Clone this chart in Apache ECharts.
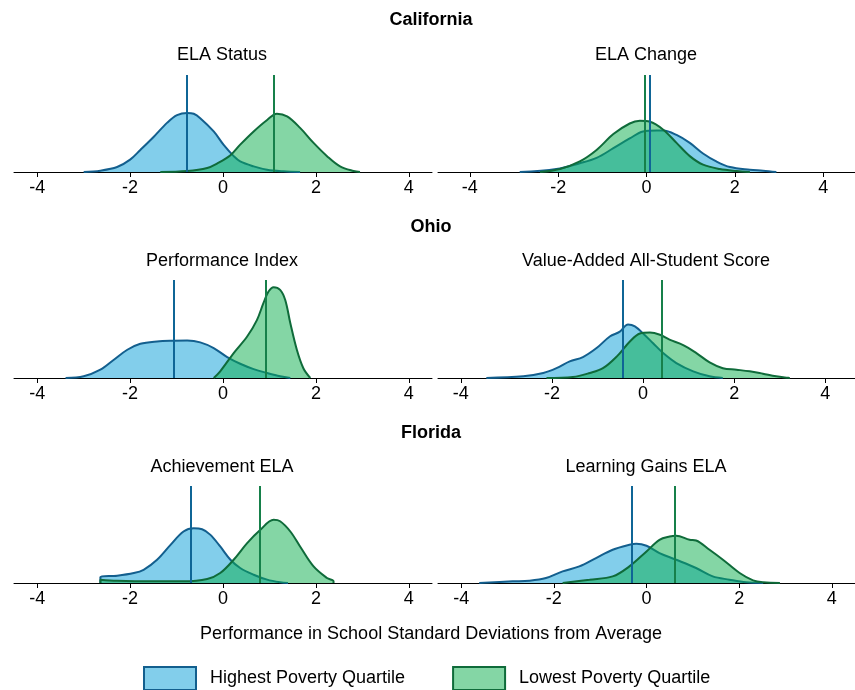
<!DOCTYPE html>
<html><head><meta charset="utf-8">
<script src="https://cdn.jsdelivr.net/npm/echarts@6/dist/echarts.min.js"></script>
<style>html,body{margin:0;padding:0;background:#fff}#c{width:855px;height:690px}</style>
</head><body><div id="c"></div>
<script>
// ---- data ----
const stateTitles = ['California', 'Ohio', 'Florida'];
const panelTitles = ['ELA Status', 'ELA Change', 'Performance Index', 'Value-Added All-Student Score', 'Achievement ELA', 'Learning Gains ELA'];
const seriesNames = ['Highest Poverty Quartile', 'Lowest Poverty Quartile'];
const tickValues = [-4, -2, 0, 2, 4];
const axisTitle = 'Performance in School Standard Deviations from Average';

// density curves [score, density]
const caStatusHigh = [[-3.0,0],[-2.64,0.015],[-2.28,0.056],[-2.0,0.14],[-1.78,0.25],[-1.49,0.40],[-1.2,0.56],[-0.99,0.645],[-0.77,0.67],[-0.63,0.66],[-0.49,0.61],[-0.2,0.46],[0.01,0.31],[0.23,0.18],[0.37,0.12],[0.66,0.064],[0.95,0.026],[1.3,0.008],[1.66,0]];
const caStatusLow = [[-1.35,0],[-0.77,0.011],[-0.34,0.045],[-0.13,0.095],[0.16,0.19],[0.37,0.31],[0.66,0.46],[0.95,0.59],[1.16,0.66],[1.38,0.63],[1.66,0.50],[1.95,0.33],[2.24,0.18],[2.52,0.064],[2.81,0.011],[2.95,0]];
const caChangeHigh = [[-2.87,0],[-2.04,0.034],[-1.51,0.10],[-1.13,0.16],[-0.75,0.27],[-0.38,0.38],[-0.08,0.46],[0.23,0.47],[0.38,0.47],[0.68,0.42],[0.98,0.33],[1.28,0.21],[1.58,0.12],[1.89,0.056],[2.34,0.026],[2.64,0.015],[2.94,0]];
const caChangeLow = [[-2.41,0],[-1.96,0.034],[-1.51,0.12],[-1.13,0.25],[-0.75,0.43],[-0.38,0.55],[-0.15,0.58],[0.08,0.57],[0.38,0.48],[0.68,0.33],[0.98,0.18],[1.28,0.083],[1.66,0.034],[2.04,0.011],[2.34,0]];
const ohPerfHigh = [[-3.39,0],[-3.0,0.019],[-2.64,0.093],[-2.35,0.205],[-2.06,0.317],[-1.78,0.384],[-1.42,0.41],[-1.06,0.418],[-0.77,0.42],[-0.49,0.40],[-0.2,0.336],[0.09,0.235],[0.37,0.16],[0.66,0.10],[0.95,0.056],[1.23,0.019],[1.45,0]];
const ohPerfLow = [[-0.2,0],[-0.06,0.075],[0.23,0.28],[0.52,0.466],[0.73,0.65],[0.87,0.84],[0.98,0.97],[1.09,1.02],[1.23,0.99],[1.34,0.876],[1.45,0.615],[1.59,0.317],[1.73,0.11],[1.88,0]];
const ohValueHigh = [[-3.44,0],[-2.63,0.019],[-2.19,0.056],[-1.9,0.11],[-1.61,0.186],[-1.32,0.235],[-1.02,0.336],[-0.73,0.466],[-0.51,0.52],[-0.33,0.60],[-0.18,0.58],[0.0,0.50],[0.22,0.39],[0.44,0.28],[0.73,0.168],[1.1,0.075],[1.46,0.019],[1.75,0]];
const ohValueLow = [[-2.12,0],[-1.54,0.011],[-1.17,0.056],[-0.88,0.11],[-0.58,0.24],[-0.29,0.41],[-0.07,0.50],[0.15,0.51],[0.37,0.485],[0.58,0.43],[0.88,0.37],[1.17,0.28],[1.46,0.175],[1.75,0.11],[2.05,0.093],[2.34,0.075],[2.63,0.048],[2.92,0.019],[3.22,0]];
const flAchHigh = [[-2.64,0],[-2.64,0.068],[-2.28,0.083],[-1.92,0.113],[-1.71,0.15],[-1.42,0.264],[-1.13,0.433],[-0.85,0.584],[-0.63,0.62],[-0.45,0.61],[-0.27,0.546],[-0.06,0.414],[0.16,0.264],[0.37,0.17],[0.66,0.094],[0.95,0.038],[1.23,0.008],[1.4,0]];
const flAchLow = [[-2.64,0],[-2.64,0.038],[-2.28,0.026],[-1.56,0.019],[-0.85,0.019],[-0.34,0.045],[-0.06,0.113],[0.23,0.264],[0.52,0.452],[0.8,0.60],[1.09,0.716],[1.23,0.70],[1.45,0.584],[1.66,0.414],[1.95,0.188],[2.24,0.056],[2.38,0.019],[2.38,0]];
const flGainHigh = [[-3.61,0],[-2.89,0.019],[-2.53,0.026],[-2.17,0.056],[-1.81,0.132],[-1.45,0.188],[-1.09,0.283],[-0.73,0.377],[-0.37,0.433],[-0.22,0.445],[0.0,0.422],[0.28,0.339],[0.64,0.264],[1.07,0.17],[1.43,0.075],[1.79,0.038],[2.15,0.008],[2.52,0]];
const flGainLow = [[-1.81,0],[-1.23,0.038],[-0.73,0.075],[-0.37,0.188],[0.0,0.358],[0.28,0.49],[0.5,0.527],[0.64,0.535],[0.93,0.49],[1.07,0.482],[1.36,0.377],[1.65,0.264],[2.01,0.113],[2.3,0.03],[2.52,0.008],[2.88,0]];

// vertical reference lines [high poverty, low poverty]
const caStatusLines = [-0.77, 1.10];
const caChangeLines = [0.075, -0.04];
const ohPerfLines = [-1.05, 0.91];
const ohValueLines = [-0.44, 0.42];
const flAchLines = [-0.70, 0.80];
const flGainLines = [-0.32, 0.62];

// ---- layout / style ----
const panels = [
  {high: caStatusHigh, low: caStatusLow, lines: caStatusLines},
  {high: caChangeHigh, low: caChangeLow, lines: caChangeLines},
  {high: ohPerfHigh, low: ohPerfLow, lines: ohPerfLines},
  {high: ohValueHigh, low: ohValueLow, lines: ohValueLines},
  {high: flAchHigh, low: flAchLow, lines: flAchLines},
  {high: flGainHigh, low: flGainLow, lines: flGainLines}
];
const grids = [
  {left: 14, top: 75, width: 418, height: 97},
  {left: 438, top: 75, width: 417, height: 97},
  {left: 14, top: 280, width: 418, height: 98},
  {left: 438, top: 280, width: 417, height: 98},
  {left: 14, top: 486, width: 418, height: 97},
  {left: 438, top: 486, width: 417, height: 97}
];
const xRanges = [[-4.5, 4.5], [-4.72, 4.72], [-4.5, 4.5], [-4.5, 4.65], [-4.5, 4.5], [-4.5, 4.5]];
const FONT = 'Liberation Sans, Arial, sans-serif';
const FS = 18;
const blueFill = '#82CEEB', blueLine = '#135F8E', blueMark = '#0F6596';
const greenFill = 'rgba(9,173,75,0.5)', greenLine = '#0F6B3A', greenMark = '#16804A';

const xAxes = grids.map((g, i) => ({
  type: 'value', gridIndex: i, min: xRanges[i][0], max: xRanges[i][1],
  axisLine: {show: true, onZero: false, lineStyle: {color: '#000', width: 1}},
  axisTick: {show: true, length: 5, lineStyle: {color: '#000'}, customValues: tickValues},
  axisLabel: {show: true, color: '#000', fontSize: FS, fontFamily: FONT, margin: 7, customValues: tickValues,
    formatter: v => String(v)},
  splitLine: {show: false}
}));
const yAxes = grids.map((g, i) => ({
  type: 'value', gridIndex: i, min: 0, max: 1.1, show: false, splitLine: {show: false}
}));

const series = [];
panels.forEach((p, i) => {
  series.push({
    name: seriesNames[0], type: 'line', xAxisIndex: i, yAxisIndex: i,
    data: p.high, smooth: 0.35, showSymbol: false, symbol: 'none',
    lineStyle: {color: blueLine, width: 2}, itemStyle: {color: blueFill, borderColor: blueLine},
    areaStyle: {color: blueFill, opacity: 1}, z: 2,
    markLine: {silent: true, symbol: 'none', label: {show: false}, animation: false,
      lineStyle: {color: blueMark, width: 2, type: 'solid'}, data: [{xAxis: p.lines[0]}]}
  });
  series.push({
    name: seriesNames[1], type: 'line', xAxisIndex: i, yAxisIndex: i,
    data: p.low, smooth: 0.35, showSymbol: false, symbol: 'none',
    lineStyle: {color: greenLine, width: 2}, itemStyle: {color: '#84D6A5', borderColor: greenLine},
    areaStyle: {color: greenFill, opacity: 1}, z: 3,
    markLine: {silent: true, symbol: 'none', label: {show: false}, animation: false,
      lineStyle: {color: greenMark, width: 2, type: 'solid'}, data: [{xAxis: p.lines[1]}]}
  });
});

const textEl = (txt, x, y, bold) => ({
  type: 'text', x: x, y: y, silent: true,
  style: {text: txt, textAlign: 'center', textVerticalAlign: 'middle', fill: '#000',
    font: (bold ? 'bold ' : '') + FS + 'px ' + FONT}
});
const stateY = [20, 227, 433];
const panelY = [55, 261, 467];
const graphics = [];
stateTitles.forEach((t, r) => graphics.push(textEl(t, 431, stateY[r], true)));
panelTitles.forEach((t, i) => graphics.push(textEl(t, i % 2 === 0 ? 222 : 646, panelY[Math.floor(i / 2)], false)));
graphics.push(textEl(axisTitle, 431, 634, false));

const chart = echarts.init(document.getElementById('c'), null, {renderer: 'canvas'});
chart.setOption({
  animation: false,
  backgroundColor: '#fff',
  grid: grids.map(g => Object.assign({containLabel: false}, g)),
  xAxis: xAxes,
  yAxis: yAxes,
  series: series,
  graphic: graphics,
  legend: {
    left: 143, top: 666, padding: 0, itemWidth: 52, itemHeight: 23, itemGap: 47, icon: 'rect',
    textStyle: {fontSize: FS, fontFamily: FONT, color: '#000', padding: [0, 0, 0, 9]},
    data: [
      {name: seriesNames[0], itemStyle: {color: blueFill, borderColor: blueLine, borderWidth: 2}},
      {name: seriesNames[1], itemStyle: {color: '#84D6A5', borderColor: greenLine, borderWidth: 2}}
    ]
  }
});
</script></body></html>
